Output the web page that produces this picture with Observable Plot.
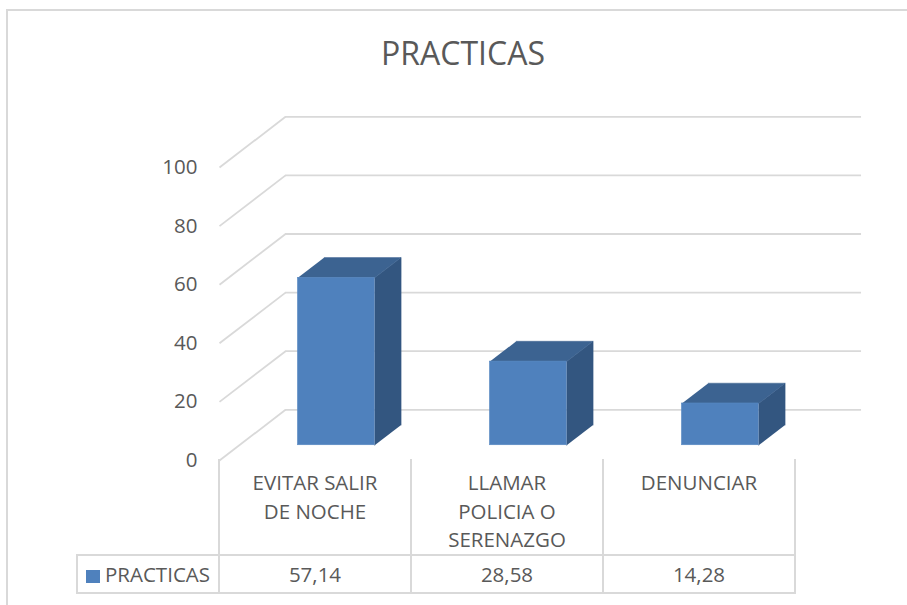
<!DOCTYPE html>
<html>
<head>
<meta charset="utf-8">
<script src="https://cdn.jsdelivr.net/npm/d3@7"></script>
<script src="https://cdn.jsdelivr.net/npm/@observablehq/plot@0.6"></script>
<style>
  body { margin: 0; background: #fff; }
  #wrap { position: relative; width: 907px; height: 605px; overflow: hidden; font-family: "Open Sans", sans-serif; color: #595959; }
  #frame { position: absolute; left: 6px; top: 9px; width: 1000px; height: 700px; border: 2px solid #D9D9D9; box-sizing: border-box; pointer-events: none; z-index: 5; }
  #title { position: absolute; left: 0; top: 37px; width: 926px; text-align: center; font-size: 32px; line-height: 31px; color: #595959; }
  #chart { position: absolute; left: 0; top: 0; }
  #table { position: absolute; left: 76px; top: 459px; border-collapse: collapse; table-layout: fixed; font-size: 20.5px; color: #595959; }
  #table td { border: 2px solid #D9D9D9; padding: 0; text-align: center; }
  #table tr.head td { border-top: none; vertical-align: top; padding-top: 9px; height: 85px; line-height: 28.5px; white-space: pre-line; }
  #table tr.head td.blank { border: none; }
  #table tr.vals td { height: 36px; line-height: 36px; }
  #table td.legend { text-align: left; padding-left: 8px; }
  .key { display: inline-block; width: 14px; height: 13px; background: #4F81BD; margin-right: 5px; vertical-align: -1px; }
</style>
</head>
<body>
<div id="wrap">
  <div id="frame"></div>
  <div id="chart"></div>
  <div id="title"></div>
  <table id="table"></table>
</div>
<script>
// ---- data ----
const title = "PRACTICAS";
const seriesName = "PRACTICAS";
const categories = ["EVITAR SALIR\nDE NOCHE", "LLAMAR\nPOLICIA O\nSERENAZGO", "DENUNCIAR"];
const values = [57.14, 28.58, 14.28];
const valueLabels = ["57,14", "28,58", "14,28"];
const yTicks = [0, 20, 40, 60, 80, 100];

// ---- 3D geometry (data units) ----
const WALL_DX = 0.344;   // depth offset along x (category units)
const WALL_DY = 17.3;    // depth offset along y (value units)
const BAR_GAP = 0.305;   // gap before bar inside category band
const BAR_W = 0.4;       // bar width (category units)
const D_FRONT = 0.3, D_BACK = 0.7; // bar depth fractions

const colFront = "#4F81BD", colTop = "#3C6391", colSide = "#335680";

const bars = values.map((v, i) => {
  const fx = D_FRONT * WALL_DX, fy = D_FRONT * WALL_DY;
  const bx = D_BACK * WALL_DX, by = D_BACK * WALL_DY;
  const xL = i + BAR_GAP, xR = i + BAR_GAP + BAR_W;
  return {
    i, v,
    front: {x1: xL + fx, x2: xR + fx, y1: fy, y2: v + fy},
    top: [
      {x: xL + fx, y: v + fy}, {x: xR + fx, y: v + fy},
      {x: xR + bx, y: v + by}, {x: xL + bx, y: v + by}
    ].map(p => ({...p, id: i})),
    side: [
      {x: xR + fx, y: fy}, {x: xR + fx, y: v + fy},
      {x: xR + bx, y: v + by}, {x: xR + bx, y: by}
    ].map(p => ({...p, id: i}))
  };
});

const marks = [
  // back wall gridlines
  Plot.ruleY(yTicks, {y: d => d + WALL_DY, x1: WALL_DX, x2: categories.length + WALL_DX, stroke: "#D9D9D9", strokeWidth: 1.8}),
  // side wall diagonals
  Plot.link(yTicks, {x1: 0, y1: d => d, x2: WALL_DX, y2: d => d + WALL_DY, stroke: "#D9D9D9", strokeWidth: 1.8}),
  Plot.axisY(yTicks, {tickSize: 0, tickPadding: 22, fontSize: 20.5, fill: "#595959"})
];
for (const b of bars) {
  marks.push(Plot.line(b.side, {x: "x", y: "y", z: "id", fill: colSide, stroke: colSide, strokeWidth: 0.5, curve: "linear"}));
  marks.push(Plot.line(b.top, {x: "x", y: "y", z: "id", fill: colTop, stroke: colTop, strokeWidth: 0.5, curve: "linear"}));
  marks.push(Plot.rect([b.front], {x1: "x1", x2: "x2", y1: "y1", y2: "y2", fill: colFront, stroke: "#5A8AC4", strokeWidth: 0.5}));
}

const chart = Plot.plot({
  width: 907,
  height: 470,
  marginLeft: 219,
  marginRight: 112,
  marginTop: 167,
  marginBottom: 10,
  x: {domain: [0, categories.length], axis: null},
  y: {domain: [0, 100], axis: null},
  style: {background: "transparent", fontFamily: "Open Sans", color: "#595959", overflow: "visible"},
  marks
});
document.getElementById("chart").appendChild(chart);
document.getElementById("title").textContent = title;

// ---- data table ----
const table = d3.select("#table");
const cg = table.append("colgroup");
cg.append("col").style("width", "142px");
categories.forEach(() => cg.append("col").style("width", "192px"));
const head = table.append("tr").attr("class", "head");
head.append("td").attr("class", "blank");
categories.forEach(c => head.append("td").text(c));
const vals = table.append("tr").attr("class", "vals");
const lg = vals.append("td").attr("class", "legend");
lg.append("span").attr("class", "key");
lg.append("span").text(seriesName);
valueLabels.forEach(v => vals.append("td").text(v));
</script>
</body>
</html>
